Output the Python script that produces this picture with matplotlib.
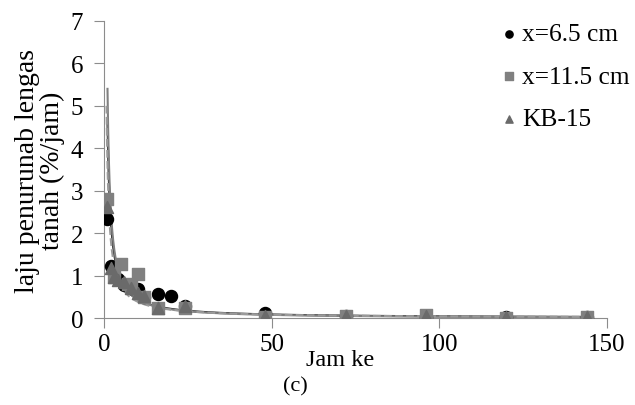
import numpy as np
import matplotlib.pyplot as plt

# data
jam_a = [1, 2, 4, 6, 8, 10, 12, 16, 20, 24, 48, 72, 96, 120, 144]
laju_a = [2.33, 1.22, 0.92, 0.78, 0.72, 0.68, 0.5, 0.56, 0.53, 0.29, 0.11, 0.05, 0.02, 0.02, 0.02]

jam_b = [1, 3, 5, 7, 8, 10, 12, 16, 24, 48, 72, 96, 120, 144]
laju_b = [2.8, 0.97, 1.28, 0.8, 0.75, 1.04, 0.5, 0.25, 0.25, 0.03, 0.05, 0.07, 0.01, 0.03]

jam_c = [1, 2, 3, 4, 6, 8, 10, 12, 16, 24, 48, 72, 96, 120, 144]
laju_c = [2.62, 1.18, 0.97, 0.9, 0.85, 0.7, 0.6, 0.52, 0.23, 0.29, 0.05, 0.05, 0.05, 0.02, 0.03]

# puncak garis trend yang terlihat di gambar
puncak = [4.7, 5.4, 5.0]

labels = ['x=6.5 cm', 'x=11.5 cm', 'KB-15']

plt.rcParams['font.family'] = ['Liberation Serif', 'DejaVu Serif']
plt.rcParams['font.size'] = 17

fig = plt.figure(figsize=(6.35, 4.06), dpi=100)
ax = fig.add_axes([0.164, 0.214, 0.792, 0.732])

def power_fit(x, y, top):
    # trendline pangkat (power) seperti excel
    b, ln_a = np.polyfit(np.log(x), np.log(y), 1)
    a = np.exp(ln_a)
    x0 = (top / a) ** (1 / b)
    xs = np.geomspace(x0, 144, 1000)
    return xs, a * xs ** b

xs, ys = power_fit(jam_a, laju_a, puncak[0])
ax.plot(xs, ys, color='#222222', lw=1.5, zorder=2)
xs, ys = power_fit(jam_b, laju_b, puncak[1])
ax.plot(xs, ys, color='#808080', lw=1.5, zorder=2)
xs, ys = power_fit(jam_c, laju_c, puncak[2])
ax.plot(xs, ys, color='#9a9a9a', lw=1.5, ls='--', zorder=2)

ax.scatter(jam_a, laju_a, marker='o', s=75, color='black', label=labels[0], zorder=3)
ax.scatter(jam_b, laju_b, marker='s', s=75, color='#808080', label=labels[1], zorder=3)
ax.scatter(jam_c, laju_c, marker='^', s=75, color='#6a6a6a', label=labels[2], zorder=3)

ax.set_xlim(0, 150)
ax.set_ylim(0, 7)
ax.set_xticks([0, 50, 100, 150])
ax.set_yticks(range(0, 8))
for s in ['top', 'right']:
    ax.spines[s].set_visible(False)
for s in ['left', 'bottom']:
    ax.spines[s].set_color('#8c8c8c')
ax.tick_params(axis='both', color='#8c8c8c', length=7, labelsize=18)
ax.tick_params(axis='y', pad=8)

fig.text(0.063, 0.579, 'laju penurunab lengas\ntanah (%/jam)', rotation=90,
         ha='center', va='center', fontsize=20, linespacing=1.0)
fig.text(0.535, 0.112, 'Jam ke', ha='center', va='center', fontsize=17.5)
fig.text(0.465, 0.048, '(c)', ha='center', va='center', fontsize=16)

leg = ax.legend(loc='upper left', bbox_to_anchor=(0.795, 0.995), frameon=False,
                handlelength=0.4, handletextpad=0.3, labelspacing=0.78,
                fontsize=18.3, markerscale=0.6, borderpad=0, borderaxespad=0)

fig.savefig('out.png', dpi=100)
